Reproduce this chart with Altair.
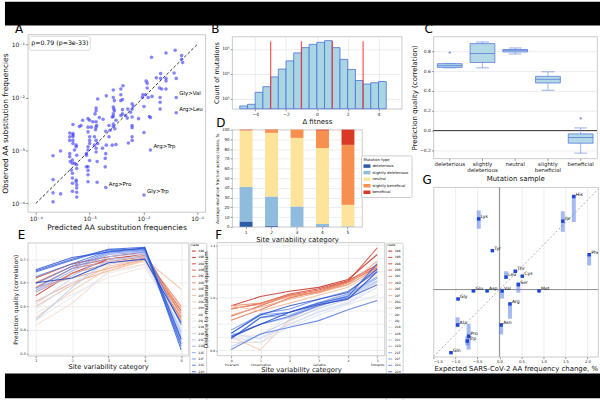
import altair as alt
import pandas as pd

FONT = "DejaVu Sans"
FRAME = "#bdbdbd"
GRID = "#e5e5e5"

# ---------------- Panel A: scatter (log10 values) ----------------
a_log_pred = [-1.85, -1.58, -1.41, -1.29, -1.29, -1.27, -1.43, -1.39, -1.68, -1.68,
              -1.58, -1.58, -1.76, -1.95, -1.93, -1.93, -1.70, -1.66, -1.58, -1.39,
              -1.69, -1.69, -1.96, -1.91, -2.01, -2.02, -1.84, -1.69, -1.39, -1.99,
              -1.89, -1.87, -2.09, -2.21, -2.19, -2.21, -2.24, -2.29, -2.21, -2.21,
              -2.21, -2.21, -2.21, -2.30, -2.42, -2.39, -2.38, -2.42, -2.56, -2.56,
              -2.54, -2.56, -2.55, -2.54, -2.56, -2.56, -2.42, -2.42, -2.69, -2.85,
              -2.88, -2.88, -2.90, -2.82, -2.75, -2.58, -2.56, -2.56, -2.64, -2.53,
              -2.62, -2.70, -2.64, -2.51, -2.69, -2.58, -2.28, -1.99, -1.87, -2.39,
              -2.39, -2.51, -2.33, -3.13, -3.03, -3.00, -3.03, -2.88, -2.97, -2.94,
              -2.88, -2.87, -2.89, -3.03, -2.91, -2.88, -2.85, -2.91, -3.00, -3.00,
              -3.00, -3.03, -3.03, -3.06, -3.06, -2.88, -2.88, -2.76, -2.70, -2.71,
              -2.71, -2.86, -3.00, -3.19, -3.16, -3.31, -3.31, -3.31, -3.31, -3.31,
              -3.31, -3.37, -3.37, -3.37, -3.25, -3.25, -3.28, -3.24, -3.28, -3.32,
              -3.32, -3.34, -3.32, -3.24, -3.24, -3.06, -3.03, -3.03, -3.03, -3.03,
              -2.86, -3.25, -3.25, -3.24, -3.24, -3.24, -3.24, -3.32, -3.32, -3.32,
              -3.37, -3.37, -3.36, -3.54, -3.68, -3.68, -3.68, -3.68, -3.54, -2.70, -1.99]
a_log_obs = [-1.24, -1.16, -1.11, -1.21, -1.28, -1.34, -1.54, -1.64, -1.55, -1.64,
             -1.64, -1.69, -1.63, -1.69, -1.73, -1.82, -1.82, -1.84, -1.84, -2.00,
             -2.00, -2.09, -1.95, -2.00, -1.95, -2.00, -1.98, -2.22, -2.29, -2.17,
             -2.36, -2.38, -2.40, -2.12, -2.16, -2.22, -2.28, -2.22, -2.37, -2.53,
             -2.57, -2.74, -2.81, -2.39, -1.95, -2.04, -1.78, -1.84, -1.86, -2.00,
             -2.06, -2.18, -2.22, -2.25, -2.31, -2.36, -2.06, -2.34, -1.97, -2.03,
             -2.20, -2.25, -2.31, -2.38, -2.41, -2.37, -2.50, -2.55, -2.53, -2.59,
             -2.62, -2.64, -2.74, -2.89, -2.90, -2.90, -2.86, -2.66, -2.99, -2.23,
             -2.31, -2.43, -2.34, -2.43, -2.40, -2.43, -2.56, -2.46, -2.56, -2.46,
             -2.56, -2.53, -2.61, -2.65, -2.74, -2.81, -2.87, -2.90, -2.74, -2.81,
             -2.87, -2.93, -2.99, -3.06, -3.09, -2.96, -3.03, -2.96, -3.06, -3.15,
             -3.31, -3.21, -3.19, -2.55, -2.53, -2.51, -2.68, -2.71, -2.74, -2.81,
             -2.87, -2.67, -2.74, -2.81, -2.90, -2.93, -2.99, -3.09, -3.24, -3.24,
             -3.18, -3.37, -3.43, -3.27, -3.34, -3.31, -3.31, -3.38, -3.46, -3.59,
             -3.60, -3.56, -3.59, -3.65, -3.71, -3.79, -3.88, -3.52, -3.62, -3.77,
             -3.06, -3.12, -3.21, -3.01, -3.10, -3.55, -3.80, -3.97, -3.82, -3.70, -3.84]
a_lab_text = ["Gly>Val", "Arg>Leu", "Arg>Trp", "Arg>Pro", "Gly>Trp"]
a_lab_log_pred = [-1.39, -1.39, -1.87, -2.70, -1.99]
a_lab_log_obs = [-2.00, -2.29, -2.99, -3.70, -3.84]
a_rho_text = "ρ=0.79 (p=3e-33)"
a_ticks = [1e-4, 1e-3, 1e-2, 1e-1]
a_diag = [1e-4, 1e-1]

# ---------------- Panel B: histogram ----------------
b_bin_lo = [-5.0, -4.5, -4.0, -3.5, -3.0, -2.5, -2.0, -1.5, -1.0, -0.5,
            0.0, 0.5, 1.0, 1.5, 2.0, 2.5, 3.0, 3.5, 4.0]
b_bin_width = 0.5
b_counts = [515, 600, 1820, 3050, 7550, 15500, 33000, 69000, 112000, 151000,
            183000, 213000, 112000, 38000, 15000, 5400, 3900, 4400, 4900]
b_thresholds = [-3, -1, 1, 3]
b_red_top = 2.0e5
b_floor = 398
b_ceiling = 316000

# ---------------- Panel C: box plots ----------------
c_cats = ["deleterious", "slightly deleterious", "neutral", "slightly beneficial", "beneficial"]
c_lo = [0.633, 0.633, 0.773, 0.407, -0.227]
c_q1 = [0.637, 0.687, 0.793, 0.480, -0.127]
c_med = [0.655, 0.777, 0.810, 0.517, -0.070]
c_q3 = [0.675, 0.877, 0.817, 0.547, -0.033]
c_hi = [0.677, 0.893, 0.833, 0.593, 0.027]
c_out_cat = ["deleterious", "beneficial"]
c_out_val = [0.787, 0.123]

# ---------------- Panel D: stacked bars ----------------
d_cats = ["1", "2", "3", "4", "5"]
d_types = ["deleterious", "slightly deleterious", "neutral", "slightly beneficial", "beneficial"]
d_colors = ["#2c5ca6", "#8fbcdd", "#fde49a", "#f78f4f", "#d83a26"]
d_vals = [
    [5.5, 1.2, 0.3, 0.5, 0.1],
    [35.5, 30.0, 20.7, 2.5, 0.5],
    [58.0, 65.5, 70.5, 78.0, 22.0],
    [0.7, 3.0, 8.5, 18.0, 61.7],
    [0.3, 0.3, 0.0, 1.0, 15.7],
]

# ---------------- Panels E & F: clade lines ----------------
clades = ["19A", "19B", "20A", "20B", "20C", "20D", "20E", "20F", "20G", "20H", "20I", "20J",
          "21A", "21B", "21C", "21D", "21E", "21F", "21G", "21H", "21I", "21J", "21K", "21L"]
clade_colors = ["#c62f24", "#d2422f", "#dc553b", "#e46a4a", "#eb7f5c", "#f0946f",
                "#f3a884", "#f5bb9b", "#f5ccb3", "#f3dccb", "#eee6e0", "#e6e8ee",
                "#dbe3f5", "#cbd8f6", "#b8cbf6", "#a3bcf5", "#8eadf3", "#7a9df0",
                "#678ded", "#557de8", "#456ee2", "#3760da", "#2b53d0", "#2247c4"]
e_x = [1, 2, 3, 4, 5]
e_vals = [
    [0.545, 0.64, 0.70, 0.72, 0.44], [0.62, 0.68, 0.71, 0.73, 0.46],
    [0.60, 0.67, 0.70, 0.715, 0.48], [0.58, 0.66, 0.69, 0.71, 0.45],
    [0.56, 0.64, 0.68, 0.705, 0.50], [0.58, 0.62, 0.66, 0.70, 0.47],
    [0.52, 0.60, 0.65, 0.695, 0.49], [0.50, 0.59, 0.67, 0.70, 0.573],
    [0.45, 0.566, 0.66, 0.69, 0.44], [0.42, 0.513, 0.648, 0.68, 0.46],
    [0.47, 0.55, 0.623, 0.665, 0.43], [0.44, 0.54, 0.64, 0.675, 0.41],
    [0.49, 0.60, 0.68, 0.70, 0.40], [0.51, 0.62, 0.69, 0.72, 0.38],
    [0.44, 0.58, 0.70, 0.71, 0.36], [0.56, 0.63, 0.71, 0.725, 0.39],
    [0.567, 0.65, 0.72, 0.73, 0.37], [0.575, 0.66, 0.725, 0.735, 0.35],
    [0.595, 0.67, 0.73, 0.74, 0.42], [0.625, 0.68, 0.735, 0.745, 0.33],
    [0.645, 0.695, 0.74, 0.74, 0.34], [0.65, 0.70, 0.742, 0.75, 0.315],
    [0.655, 0.707, 0.73, 0.748, 0.36], [0.60, 0.62, 0.685, 0.70, 0.43],
]
f_x = [0, 1, 2, 3, 4, 5]
f_yticks = [0.6, 0.7, 0.8, 0.9, 1.0, 1.1, 1.2, 1.3, 1.4]
f_vals = [
    [0.94, 1.01, 1.05, 1.08, 1.14, 1.33], [0.915, 0.957, 1.03, 1.07, 1.13, 1.25],
    [0.86, 0.94, 1.02, 1.06, 1.125, 1.38], [0.83, 0.91, 1.00, 1.05, 1.12, 1.23],
    [0.94, 0.96, 1.02, 1.04, 1.115, 1.24], [0.92, 0.95, 1.01, 1.05, 1.10, 1.22],
    [0.87, 0.93, 0.99, 1.04, 1.10, 1.28], [0.94, 0.90, 0.96, 1.02, 1.08, 1.21],
    [0.70, 0.605, 0.84, 0.95, 1.05, 1.20], [0.66, 0.66, 0.82, 0.93, 1.03, 1.18],
    [0.70, 0.72, 0.86, 0.96, 1.00, 1.12], [0.68, 0.70, 0.80, 0.90, 0.97, 1.10],
    [0.70, 0.66, 0.78, 0.87, 0.95, 1.02], [0.73, 0.69, 0.80, 0.89, 0.96, 1.08],
    [0.63, 0.72, 0.83, 0.92, 0.99, 1.12], [0.71, 0.80, 0.85, 0.94, 1.01, 1.13],
    [0.69, 0.85, 0.87, 0.95, 1.02, 1.15], [0.756, 0.87, 0.89, 0.965, 1.03, 1.16],
    [0.73, 0.88, 0.915, 0.99, 1.05, 1.20], [0.607, 0.725, 0.776, 0.827, 0.91, 0.98],
    [0.71, 0.80, 0.86, 0.94, 1.00, 1.10], [0.69, 0.85, 0.89, 0.96, 1.01, 1.26],
    [0.73, 0.87, 0.94, 0.99, 1.04, 1.22], [0.70, 0.80, 0.89, 0.95, 0.99, 1.20],
]

# ---------------- Panel G: expected vs observed ----------------
g_aa = ["His", "Ile", "Lys", "Tyr", "Phe", "Thr", "Leu", "Cys", "Ser", "Met",
        "Val", "Asp", "Glu", "Gly", "Arg", "Ala", "Asn", "Pro", "Trp", "Gln"]
g_exp = [1.69, 1.44, -0.47, -0.16, 2.04, 0.36, 0.15, 0.52, 0.43, 0.90,
         0.06, -0.28, -0.59, -0.94, 0.24, -0.95, 0.04, -0.70, -0.73, -1.10]
g_obs = [2.08, 1.53, 1.58, 0.87, 0.78, 0.41, 0.28, 0.30, 0.11, -0.03,
         -0.03, -0.03, -0.03, -0.21, -0.32, -0.79, -0.79, -1.04, -1.15, -1.41]
g_lo = [1.51, 1.29, 1.36, 0.85, 0.54, 0.38, 0.24, 0.28, -0.07, -0.05,
        -0.20, -0.05, -0.05, -0.24, -0.65, -0.84, -1.00, -1.34, -1.25, -1.44]
g_hi = [2.12, 1.75, 1.77, 0.89, 0.81, 0.44, 0.41, 0.32, 0.17, -0.01,
        0.02, -0.01, -0.01, -0.18, -0.29, -0.62, -0.75, -0.76, -1.05, -1.38]
g_ticks = [-1.5, -1.0, -0.5, 0.0, 0.5, 1.0, 1.5, 2.0]
g_diag = [-1.5, 2.3]


# ======================= helpers =======================
def frame():
    return alt.ViewBackground(stroke=FRAME, strokeWidth=0.8, fill="white")


def letter(t, dx, dy):
    return alt.TitleParams(text=t, anchor="start", frame="group", dx=dx, dy=dy, offset=0,
                           baseline="alphabetic", fontSize=12, fontWeight="normal",
                           font=FONT, color="black")


def axis(title, **kw):
    base = dict(title=title, labelFontSize=5, titleFontSize=7, tickSize=2,
                labelPadding=1, titlePadding=2, grid=True)
    base.update(kw)
    return alt.Axis(**base)


def guard(x1, x2, y1, y2):
    # invisible layout guard (fixes the horizontal layout bounds of a panel)
    return alt.Chart(pd.DataFrame({"g": [0]})).mark_rect(opacity=0).encode(
        x=alt.value(x1), x2=alt.value(x2), y=alt.value(y1), y2=alt.value(y2))


def spacer(h, left=0):
    return alt.Chart(pd.DataFrame({"s": [0]})).mark_rect(opacity=0).encode(
        x=alt.value(-left), x2=alt.value(1), y=alt.value(0), y2=alt.value(h)
    ).properties(width=1, height=h)


def indep(c):
    return c.resolve_scale(color="independent").resolve_legend(color="independent")


# ======================= Panel A =======================
dfA = pd.DataFrame({"pred": [10 ** v for v in a_log_pred], "obs": [10 ** v for v in a_log_obs]})
dfAl = pd.DataFrame({"pred": [10 ** v for v in a_lab_log_pred],
                     "obs": [10 ** v for v in a_lab_log_obs], "lab": a_lab_text})
dfAd = pd.DataFrame({"pred": a_diag, "obs": a_diag})
sup_expr = ("datum.value < 0.0005 ? '10⁻⁴' : datum.value < 0.005 ? '10⁻³' : "
            "datum.value < 0.05 ? '10⁻²' : '10⁻¹'")
xA = alt.X("pred:Q", scale=alt.Scale(type="log", domain=[10 ** -4.15, 10 ** -0.85], nice=False),
           axis=axis("Predicted AA substitution frequencies", values=a_ticks, labelExpr=sup_expr,
                     grid=False, labelFontSize=6, titleFontSize=7.5, tickSize=2.5))
yA = alt.Y("obs:Q", scale=alt.Scale(type="log", domain=[10 ** -4.16, 10 ** -0.81], nice=False),
           axis=axis("Observed AA substitution frequencies", values=a_ticks, labelExpr=sup_expr,
                     grid=False, labelFontSize=6, titleFontSize=7.5, tickSize=2.5, titlePadding=2))
A_pts = alt.Chart(dfA).mark_circle(size=13, color="#3a3aff", opacity=0.62).encode(x=xA, y=yA)
A_diag = alt.Chart(dfAd).mark_line(color="black", strokeDash=[3, 2], strokeWidth=0.8).encode(x="pred:Q", y="obs:Q")
A_lab = alt.Chart(dfAl).mark_text(align="left", baseline="middle", dx=3, dy=-4, fontSize=5.5,
                                  font=FONT).encode(x="pred:Q", y="obs:Q", text="lab:N")
A_box = alt.Chart(pd.DataFrame({"t": [a_rho_text]})).mark_rect(
    fill="white", stroke="#cccccc", strokeWidth=0.7, cornerRadius=2).encode(
    x=alt.value(1.5), x2=alt.value(63), y=alt.value(2), y2=alt.value(16))
A_txt = alt.Chart(pd.DataFrame({"t": [a_rho_text]})).mark_text(
    align="left", baseline="middle", fontSize=6.3, font=FONT).encode(
    x=alt.value(3.5), y=alt.value(9), text="t:N")
panelA = alt.layer(A_diag, A_pts, A_lab, A_box, A_txt, guard(0, 186, 0, 1)).properties(
    width=179, height=179, title=letter("A", -13, 11), view=frame())

# ======================= Panel B =======================
dfB = pd.DataFrame({"lo": b_bin_lo, "hi": [v + b_bin_width for v in b_bin_lo], "n": b_counts})
dfBr = pd.DataFrame({"lo": b_thresholds})
xBs = alt.Scale(domain=[-5.5, 5.5], nice=False)
yBs = alt.Scale(type="log", domain=[b_floor, b_ceiling], nice=False)
sup_b = "datum.value < 5000 ? '10³' : datum.value < 50000 ? '10⁴' : '10⁵'"
B_bars = alt.Chart(dfB).mark_rect(fill="#aad6e4", stroke="#4a70d8", strokeWidth=0.8).encode(
    x=alt.X("lo:Q", scale=xBs, axis=axis("Δ fitness", values=[-4, -2, 0, 2, 4], labelFontSize=4.5,
                                          titlePadding=1)),
    x2="hi:Q",
    y=alt.Y("n:Q", scale=yBs, axis=axis("Count of mutations", values=[1e3, 1e4, 1e5], labelExpr=sup_b,
                                         labelFontSize=4.5, titleFontSize=6.5)),
    y2=alt.datum(b_floor))
B_red = alt.Chart(dfBr).mark_rule(color="#ff2a2a", opacity=0.75, strokeWidth=1.3).encode(
    x="lo:Q", y=alt.datum(b_floor), y2=alt.datum(b_red_top))
panelB = alt.layer(B_bars, B_red).properties(width=171, height=73, title=letter("B", -21, 9), view=frame())

# ======================= Panel C =======================
dfC = pd.DataFrame({"cat": c_cats, "lo": c_lo, "q1": c_q1, "med": c_med, "q3": c_q3, "hi": c_hi})
dfCo = pd.DataFrame({"cat": c_out_cat, "lo": c_out_val})
dfC0 = pd.DataFrame({"lo": [0.0]})
xC = alt.X("cat:N", sort=c_cats, scale=alt.Scale(domain=c_cats, paddingInner=0.2, paddingOuter=0.1),
           axis=axis("Mutation sample", labelExpr="split(datum.label, ' ')", labelAngle=0,
                     labelFontSize=5.5, grid=False, labelLineHeight=6))
ayC = axis("Prediction quality (correlation)", values=[-0.2, 0.0, 0.2, 0.4, 0.6, 0.8], format=".1f",
           labelFontSize=4.5, titleFontSize=7)
ysC = alt.Scale(domain=[-0.28, 0.95], nice=False)


def yC(f):
    return alt.Y(f, scale=ysC, axis=ayC)


C_whisk = alt.Chart(dfC).mark_rule(color="#6b8de3", opacity=0.7, strokeWidth=0.9).encode(x=xC, y=yC("lo:Q"), y2="hi:Q")
C_box = alt.Chart(dfC).mark_bar(size=25, fill="#b3d9e6", stroke="#4a6fdc", strokeWidth=0.9,
                                strokeOpacity=0.8).encode(x=xC, y=yC("q1:Q"), y2="q3:Q")
C_med = alt.Chart(dfC).mark_tick(size=25, thickness=1, color="#4a6fdc").encode(x=xC, y=yC("med:Q"))
C_cap1 = alt.Chart(dfC).mark_tick(size=13, thickness=1, color="#6b8de3").encode(x=xC, y=yC("lo:Q"))
C_cap2 = alt.Chart(dfC).mark_tick(size=13, thickness=1, color="#6b8de3").encode(x=xC, y=yC("hi:Q"))
C_out = alt.Chart(dfCo).mark_circle(size=5, color="#4a6fdc", opacity=0.8).encode(x=xC, y=yC("lo:Q"))
C_zero = alt.Chart(dfC0).mark_rule(color="#333333", strokeWidth=1).encode(y=yC("lo:Q"))
panelC = alt.layer(C_zero, C_whisk, C_box, C_med, C_cap1, C_cap2, C_out, guard(-37, 166, 0, 1)).properties(
    width=165, height=123, title=letter("C", -9, 9), view=frame())

# ======================= Panel D =======================
rowsD = []
for k, t in enumerate(d_types):
    for j, c in enumerate(d_cats):
        rowsD.append({"cat": c, "type": t, "v": d_vals[k][j], "ord": k})
dfD = pd.DataFrame(rowsD)
D_bars = alt.Chart(dfD).mark_bar(size=13).encode(
    x=alt.X("cat:N", sort=d_cats, scale=alt.Scale(paddingInner=0.48, paddingOuter=0.29),
            axis=axis("Site variability category", labelAngle=0, labelFontSize=4.5, grid=False,
                      titlePadding=1)),
    y=alt.Y("v:Q", stack="zero", scale=alt.Scale(domain=[0, 100], nice=False),
            axis=axis("Average mutation fraction across clades, %", values=list(range(0, 101, 10)),
                      labelFontSize=4, titleFontSize=4.2)),
    color=alt.Color("type:N", scale=alt.Scale(domain=d_types, range=d_colors),
                    legend=alt.Legend(title="Mutation type", orient="none", legendX=130, legendY=26,
                                      titleFontSize=3.8, labelFontSize=3.8, titleFontWeight="normal",
                                      symbolType="M-1,-0.5H1V0.5H-1Z", symbolSize=49,
                                      symbolStrokeWidth=0, rowPadding=0.6, padding=2.5,
                                      titlePadding=1, labelOffset=2, strokeColor="#cccccc",
                                      fillColor="white", cornerRadius=1.5)),
    order=alt.Order("ord:Q"),
)
panelD = alt.layer(D_bars, guard(-40, 186, 0, 1)).properties(
    width=131, height=98, title=letter("D", -16, 11), view=frame())


# ======================= Panels E & F =======================
def clade_legend(lx):
    return alt.Legend(title="clade", orient="none", legendX=lx, legendY=0, titleFontSize=3,
                      labelFontSize=3, titleFontWeight="normal", symbolType="stroke", symbolSize=16,
                      symbolStrokeWidth=1.2, rowPadding=0.4, padding=1.5, titlePadding=1,
                      labelOffset=1.5, strokeColor="#d0d0d0", fillColor="white", cornerRadius=1)


rowsE = []
for i, c in enumerate(clades):
    for x, v in zip(e_x, e_vals[i]):
        rowsE.append({"clade": c, "x": x, "y": v})
dfE = pd.DataFrame(rowsE)
panelE = alt.Chart(dfE).mark_line(strokeWidth=1.1, opacity=0.85).encode(
    x=alt.X("x:Q", scale=alt.Scale(domain=[0.78, 5.2], nice=False),
            axis=axis("Site variability category", values=e_x, format="d", labelFontSize=3.5,
                      titlePadding=1, titleFontSize=6.8)),
    y=alt.Y("y:Q", scale=alt.Scale(domain=[0.29, 0.77], nice=False),
            axis=axis("Prediction quality (correlation)", values=[0.3, 0.4, 0.5, 0.6, 0.7],
                      format=".1f", labelFontSize=3.5, titleFontSize=6, tickSize=1.5,
                      titlePadding=1.5)),
    color=alt.Color("clade:N", scale=alt.Scale(domain=clades, range=clade_colors),
                    legend=clade_legend(163)),
    detail="clade:N",
).properties(width=162, height=114, title=letter("E", -10, 9), view=frame())

# Panel F: its plot area starts 15 px left of the B/D column, so its x range starts at -15
rowsF = []
for i, c in enumerate(clades):
    for x, v in zip(f_x, f_vals[i]):
        rowsF.append({"clade": c, "x": x, "y": v})
dfF = pd.DataFrame(rowsF)
F_L, F_R, F_H = -15, 154, 114
f_label_expr = ("datum.value == 0 ? ['0', 'invariant'] : datum.value == 1 ? ['1', 'conservative'] : "
                "datum.value == 3 ? ['3', 'variable'] : datum.value == 5 ? ['5', 'hotspots'] : datum.label")
xsF = alt.Scale(domain=[-0.48, 5.26], nice=False, range=[F_L, F_R])
ysF = alt.Scale(domain=[0.56, 1.42], nice=False)
F_grid = alt.Chart(pd.DataFrame({"y": f_yticks})).mark_rule(color=GRID, strokeWidth=0.7).encode(
    x=alt.value(F_L), x2=alt.value(F_R),
    y=alt.Y("y:Q", scale=ysF, axis=axis("Distance to mutational equilibrium", values=f_yticks,
                                         format=".1f", labelFontSize=3.2, titleFontSize=5.6,
                                         tickSize=1.5, titlePadding=1, grid=False, offset=-F_L)))
F_lines = alt.Chart(dfF).mark_line(strokeWidth=1.1, opacity=0.85).encode(
    x=alt.X("x:Q", scale=xsF,
            axis=axis("Site variability category", values=f_x, labelExpr=f_label_expr,
                      labelFontSize=3.2, titlePadding=1, labelLineHeight=4, titleFontSize=6.8)),
    y=alt.Y("y:Q", scale=ysF),
    color=alt.Color("clade:N", scale=alt.Scale(domain=clades, range=clade_colors),
                    legend=clade_legend(155)),
    detail="clade:N",
)
F_frame = alt.Chart(pd.DataFrame({"s": [0]})).mark_rect(
    fillOpacity=0, stroke=FRAME, strokeWidth=0.8).encode(
    x=alt.value(F_L), x2=alt.value(F_R), y=alt.value(0), y2=alt.value(F_H))
panelF = alt.layer(F_grid, F_lines, F_frame).properties(
    width=F_R, height=F_H, title=letter("F", -17, 9))

# ======================= Panel G =======================
dfG = pd.DataFrame({"aa": g_aa, "exp": g_exp, "obs": g_obs, "lo": g_lo, "hi": g_hi})
dfGd = pd.DataFrame({"exp": g_diag, "obs": g_diag})
dfG0 = pd.DataFrame({"exp": [0.0], "obs": [0.0]})
xsG = alt.Scale(domain=[-1.5, 2.24], nice=False)
ysG = alt.Scale(domain=[-1.5, 2.29], nice=False)
xG = alt.X("exp:Q", scale=xsG, axis=axis("Expected SARS-CoV-2 AA frequency change, %", values=g_ticks,
                                          format=".1f", labelFontSize=3.8, titlePadding=1))
yG = alt.Y("obs:Q", scale=ysG, axis=axis("Observed SARS-CoV-2 AA frequency change, %", values=g_ticks,
                                          format=".1f", labelFontSize=3.8, titlePadding=1))
G_vz = alt.Chart(dfG0).mark_rule(color="#808080", strokeWidth=0.9).encode(x=xG)
G_hz = alt.Chart(dfG0).mark_rule(color="#808080", strokeWidth=0.9).encode(y=yG)
G_diag = alt.Chart(dfGd).mark_line(color="#8c8c8c", strokeDash=[2, 2], strokeWidth=0.7, clip=True).encode(x=xG, y=yG)
G_err = alt.Chart(dfG).mark_rule(color="#5b82ea", opacity=0.55, strokeWidth=4).encode(
    x=xG, y=alt.Y("lo:Q", scale=ysG, axis=None), y2="hi:Q")
G_pts = alt.Chart(dfG).mark_square(size=12, color="#1f47d6", opacity=1).encode(x=xG, y=yG)
G_lab = alt.Chart(dfG).mark_text(align="left", baseline="middle", dx=2, dy=-2, fontSize=4.6,
                                 font=FONT, clip=True).encode(x=xG, y=yG, text="aa:N")
panelG = alt.layer(G_vz, G_hz, G_diag, G_err, G_pts, G_lab).properties(
    width=166, height=171, title=letter("G", -11, 9), view=frame())

# ======================= Layout =======================
col1 = indep(alt.vconcat(spacer(33, left=28), panelA, spacer(31), panelE, spacing=0, bounds="flush"))
col2 = indep(alt.vconcat(spacer(35), panelB, spacer(21), panelD, spacer(16), panelF,
                         spacing=0, bounds="flush"))
col3 = indep(alt.vconcat(spacer(35), panelC, spacer(29), panelG, spacing=0, bounds="flush"))
content = indep(alt.hconcat(col1, col2, col3, spacing=-22))

# black letter-box bands (top and bottom of the picture), drawn to the left of their own origin
band_top = alt.Chart(pd.DataFrame({"s": [0]})).mark_rect(color="black").encode(
    x=alt.value(-599), x2=alt.value(1), y=alt.value(0), y2=alt.value(24))
band_bottom = alt.Chart(pd.DataFrame({"s": [0]})).mark_rect(color="black").encode(
    x=alt.value(-599), x2=alt.value(1), y=alt.value(375), y2=alt.value(400))
bands = alt.layer(band_top, band_bottom).properties(width=1, height=1)

chart = indep(alt.hconcat(content, bands, spacing=-599)).properties(
    padding=0, background="white"
).configure_view(stroke=None).configure_axis(
    labelFont=FONT, titleFont=FONT, domain=False, tickColor="#555555", tickWidth=0.6,
    gridColor=GRID, gridWidth=0.7, labelColor="#222222", titleColor="#111111",
    titleFontWeight="normal"
).configure_legend(labelFont=FONT, titleFont=FONT).configure_title(font=FONT)

chart.save("out.html", embed_options={"renderer": "svg", "actions": False})
